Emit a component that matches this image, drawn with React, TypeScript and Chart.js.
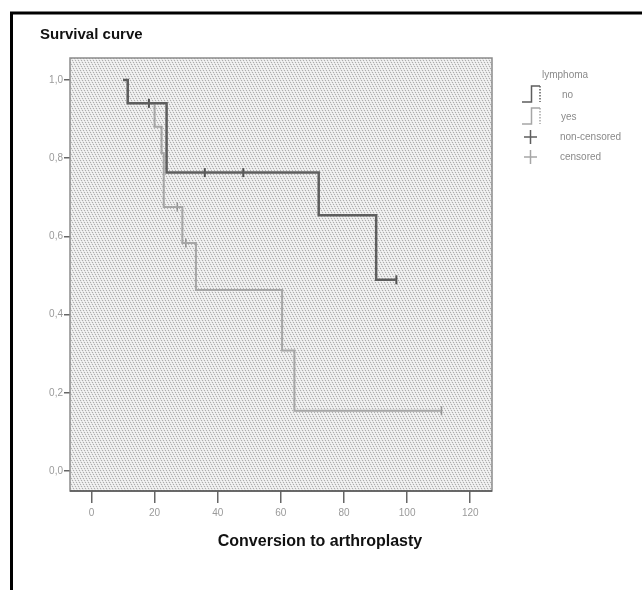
import React, { useEffect, useRef } from 'react';
import { Chart, registerables } from 'chart.js';

Chart.register(...registerables);

// Kaplan-Meier step data
const noTimes = [10, 11.5, 23.8, 72, 90.2, 96.6];
const noSurvival = [1.0, 0.94, 0.763, 0.654, 0.489, 0.489];
const yesTimes = [10, 11.5, 20, 22.2, 22.9, 28.8, 33.1, 60.4, 64.3, 110.9];
const yesSurvival = [1.0, 0.94, 0.88, 0.813, 0.675, 0.583, 0.463, 0.308, 0.154, 0.154];
const noCensoredTimes = [18.2, 35.9, 48.1, 96.6];
const noCensoredSurvival = [0.94, 0.763, 0.763, 0.489];
const yesCensoredTimes = [27.2, 29.9, 110.9];
const yesCensoredSurvival = [0.675, 0.583, 0.154];

const xTicks = [0, 20, 40, 60, 80, 100, 120];
const yTicks = [0, 0.2, 0.4, 0.6, 0.8, 1.0];

const chartTitle = 'Survival curve';
const xTitle = 'Conversion to arthroplasty';
const legendTitle = 'lymphoma';
const legendLabels = ['no', 'yes', 'non-censored', 'censored'];

const DARK = '#5e5e5e';
const LIGHT = '#a6a6a6';

function makePattern(ctx: CanvasRenderingContext2D) {
  const c = document.createElement('canvas');
  c.width = 6;
  c.height = 6;
  const p = c.getContext('2d')!;
  p.fillStyle = '#e9e9e9';
  p.fillRect(0, 0, 6, 6);
  p.fillStyle = '#adadad';
  for (let i = 0; i < 6; i++) {
    p.fillRect(i, (i * 2) % 6, 1, 1);
  }
  p.fillStyle = '#f8f8f8';
  for (let i = 0; i < 6; i++) {
    p.fillRect(i, (i * 2 + 3) % 6, 1, 1);
  }
  return ctx.createPattern(c, 'repeat');
}

const decorPlugin = {
  id: 'decor',
  beforeDraw(chart: any) {
    const { ctx, chartArea: a } = chart;
    ctx.save();
    ctx.fillStyle = '#ffffff';
    ctx.fillRect(0, 0, chart.width, chart.height);
    const pat = makePattern(ctx);
    ctx.fillStyle = pat || '#d8d8d8';
    ctx.fillRect(a.left, a.top, a.right - a.left, a.bottom - a.top);
    ctx.restore();
  },
  afterDraw(chart: any) {
    const { ctx, chartArea: a } = chart;
    ctx.save();
    // plot border
    ctx.strokeStyle = '#8c8c8c';
    ctx.lineWidth = 1.5;
    ctx.strokeRect(a.left, a.top, a.right - a.left, a.bottom - a.top);
    ctx.strokeStyle = '#555';
    ctx.lineWidth = 1.5;
    ctx.beginPath();
    ctx.moveTo(a.left, a.bottom);
    ctx.lineTo(a.right, a.bottom);
    ctx.stroke();

    // outer frame
    ctx.strokeStyle = '#000';
    ctx.lineWidth = 3;
    ctx.beginPath();
    ctx.moveTo(11.5, chart.height + 5);
    ctx.lineTo(11.5, 13);
    ctx.lineTo(chart.width + 5, 13);
    ctx.stroke();

    // chart title
    ctx.fillStyle = '#111';
    ctx.font = 'bold 15px "Liberation Sans", Arial, sans-serif';
    ctx.textAlign = 'left';
    ctx.textBaseline = 'middle';
    ctx.fillText(chartTitle, 40, 35);

    // x-axis title
    ctx.font = 'bold 16px "Liberation Sans", Arial, sans-serif';
    ctx.textAlign = 'center';
    ctx.fillText(xTitle, 320, 542);

    // legend
    ctx.font = '10px "Liberation Sans", Arial, sans-serif';
    ctx.textAlign = 'left';
    ctx.fillStyle = '#8a8a8a';
    ctx.fillText(legendTitle, 542, 75);
    const rows = [95, 117, 137, 157];
    const stepIcon = (y: number, color: string) => {
      ctx.strokeStyle = color;
      ctx.lineWidth = 1.5;
      ctx.beginPath();
      ctx.moveTo(522, y + 7);
      ctx.lineTo(531.5, y + 7);
      ctx.lineTo(531.5, y - 9);
      ctx.lineTo(540, y - 9);
      ctx.stroke();
      ctx.setLineDash([1.5, 1.5]);
      ctx.beginPath();
      ctx.moveTo(540, y - 9);
      ctx.lineTo(540, y + 7);
      ctx.stroke();
      ctx.setLineDash([]);
    };
    stepIcon(rows[0], DARK);
    stepIcon(rows[1], LIGHT);
    const crossIcon = (y: number, color: string) => {
      ctx.strokeStyle = color;
      ctx.lineWidth = 1.5;
      ctx.beginPath();
      ctx.moveTo(524, y);
      ctx.lineTo(537, y);
      ctx.moveTo(530.5, y - 7);
      ctx.lineTo(530.5, y + 7);
      ctx.stroke();
    };
    crossIcon(rows[2], DARK);
    crossIcon(rows[3], LIGHT);
    ctx.fillStyle = '#8a8a8a';
    ctx.fillText(legendLabels[0], 562, rows[0]);
    ctx.fillText(legendLabels[1], 561, rows[1]);
    ctx.fillText(legendLabels[2], 560, rows[2]);
    ctx.fillText(legendLabels[3], 560, rows[3]);
    ctx.restore();
  },
};

export default function App() {
  const canvasRef = useRef<HTMLCanvasElement | null>(null);

  useEffect(() => {
    document.body.style.margin = '0';
    const canvas = canvasRef.current;
    if (!canvas) return;

    const toPts = (xs: number[], ys: number[]) => xs.map((x, i) => ({ x, y: ys[i] }));

    const chart = new Chart(canvas, {
      type: 'line',
      data: {
        datasets: [
          {
            label: legendLabels[0],
            data: toPts(noTimes, noSurvival),
            stepped: true,
            borderColor: DARK,
            borderWidth: 2.5,
            pointRadius: 0,
            fill: false,
          },
          {
            label: legendLabels[2],
            data: toPts(noCensoredTimes, noCensoredSurvival),
            showLine: false,
            pointStyle: 'line',
            rotation: 90,
            pointRadius: 4.5,
            pointBorderColor: '#505050',
            pointBorderWidth: 2,
          },
          {
            label: legendLabels[1],
            data: toPts(yesTimes, yesSurvival),
            stepped: true,
            borderColor: LIGHT,
            borderWidth: 2,
            pointRadius: 0,
            fill: false,
          },
          {
            label: legendLabels[3],
            data: toPts(yesCensoredTimes, yesCensoredSurvival),
            showLine: false,
            pointStyle: 'line',
            rotation: 90,
            pointRadius: 4.5,
            pointBorderColor: '#909090',
            pointBorderWidth: 1.5,
          },
        ] as any,
      },
      options: {
        responsive: false,
        animation: false,
        devicePixelRatio: 1,
        layout: { padding: { left: 0, top: 58, right: 150, bottom: 0 } },
        plugins: {
          legend: { display: false },
          tooltip: { enabled: false },
          title: { display: false },
        },
        scales: {
          x: {
            type: 'linear',
            min: -6.8,
            max: 126.9,
            afterFit: (s: any) => {
              s.height = 99;
            },
            afterBuildTicks: (s: any) => {
              s.ticks = xTicks.map((v) => ({ value: v }));
            },
            grid: {
              display: true,
              drawOnChartArea: false,
              drawTicks: true,
              tickLength: 12,
              color: '#666',
              lineWidth: 1.5,
            },
            border: { display: false },
            ticks: {
              color: '#9a9a9a',
              padding: 4,
              font: { size: 10, family: '"Liberation Sans", Arial, sans-serif' },
              maxRotation: 0,
              autoSkip: false,
            },
          },
          y: {
            type: 'linear',
            min: -0.051,
            max: 1.056,
            afterFit: (s: any) => {
              s.width = 70;
            },
            afterBuildTicks: (s: any) => {
              s.ticks = yTicks.map((v) => ({ value: v }));
            },
            grid: {
              display: true,
              drawOnChartArea: false,
              drawTicks: true,
              tickLength: 6,
              color: '#666',
              lineWidth: 1.5,
            },
            border: { display: false },
            ticks: {
              color: '#9a9a9a',
              padding: 1,
              font: { size: 10, family: '"Liberation Sans", Arial, sans-serif' },
              callback: (v: any) => Number(v).toFixed(1).replace('.', ','),
              autoSkip: false,
            },
          },
        },
      } as any,
      plugins: [decorPlugin],
    });

    return () => chart.destroy();
  }, []);

  return (
    <div style={{ width: 642, height: 590 }}>
      <canvas ref={canvasRef} width={642} height={590} style={{ display: 'block' }} />
    </div>
  );
}
